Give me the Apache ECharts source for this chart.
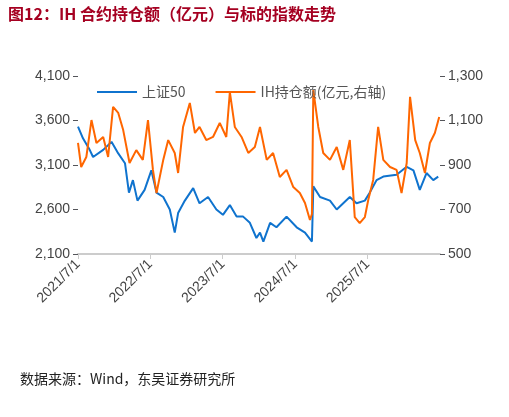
<!DOCTYPE html><html><head><meta charset="utf-8"><script src="https://cdn.jsdelivr.net/npm/echarts@6/dist/echarts.min.js"></script>
<style>body{margin:0}#c{width:509px;height:417px}</style></head><body><div id="c"></div><script>
const sz50=[['2021-07-01',3530],['2021-07-26',3400],['2021-08-29',3270],['2021-09-15',3190],['2021-11-05',3270],['2021-12-17',3360],['2022-01-20',3230],['2022-02-23',3120],['2022-03-15',2790],['2022-04-04',2930],['2022-04-27',2700],['2022-06-02',2820],['2022-07-06',3040],['2022-08-01',2790],['2022-09-04',2740],['2022-10-07',2600],['2022-11-01',2340],['2022-11-18',2560],['2022-12-22',2700],['2023-02-02',2840],['2023-03-06',2670],['2023-04-18',2740],['2023-05-30',2600],['2023-07-02',2540],['2023-08-06',2650],['2023-09-09',2520],['2023-10-12',2520],['2023-11-15',2450],['2023-12-18',2280],['2024-01-05',2340],['2024-01-22',2240],['2024-02-25',2450],['2024-03-28',2400],['2024-05-18',2520],['2024-07-08',2400],['2024-08-19',2340],['2024-09-23',2240],['2024-09-30',2860],['2024-11-03',2740],['2024-12-23',2700],['2025-01-26',2600],['2025-02-28',2670],['2025-04-02',2740],['2025-05-06',2670],['2025-06-17',2700],['2025-07-12',2790],['2025-08-15',2930],['2025-09-18',2970],['2025-11-24',2990],['2026-01-14',3080],['2026-02-17',3040],['2026-03-21',2820],['2026-04-24',3010],['2026-05-28',2930],['2026-06-22',2970]];
const ihOI=[['2021-07-01',999],['2021-07-17',891],['2021-08-12',936],['2021-09-07',1102],['2021-10-02',999],['2021-11-05',1026],['2021-11-30',936],['2021-12-25',1161],['2022-01-20',1134],['2022-02-14',1057],['2022-03-18',909],['2022-04-21',967],['2022-05-24',923],['2022-06-19',1102],['2022-07-14',878],['2022-08-01',774],['2022-09-04',923],['2022-09-29',1012],['2022-11-01',954],['2022-11-18',864],['2022-12-13',1071],['2023-01-16',1179],['2023-02-11',1044],['2023-03-06',1071],['2023-04-09',1012],['2023-05-13',1026],['2023-06-16',1089],['2023-07-19',1026],['2023-08-06',1228],['2023-08-31',1071],['2023-10-04',1026],['2023-11-07',954],['2023-12-10',981],['2024-01-05',1071],['2024-02-08',923],['2024-03-11',954],['2024-04-14',846],['2024-05-18',878],['2024-06-21',801],['2024-07-24',774],['2024-08-19',729],['2024-09-13',653],['2024-09-23',680],['2024-09-30',1237],['2024-10-25',1071],['2024-11-19',954],['2024-12-23',923],['2025-01-26',981],['2025-02-28',878],['2025-04-02',1012],['2025-04-27',666],['2025-05-22',639],['2025-06-17',666],['2025-07-04',743],['2025-07-29',833],['2025-08-23',1071],['2025-09-18',923],['2025-10-22',891],['2025-11-24',878],['2025-12-19',774],['2026-01-14',909],['2026-01-31',1206],['2026-02-26',1012],['2026-03-21',954],['2026-04-16',864],['2026-05-11',999],['2026-06-05',1044],['2026-06-27',1116]];
const xTicks=['2021-07-01','2022-07-01','2023-07-01','2024-07-01','2025-07-01'];
const names=['上证50','IH持仓额(亿元,右轴)'];
const ts=s=>{const p=s.split('-').map(Number);return Date.UTC(p[0],p[1]-1,p[2]);};
const conv=a=>a.map(d=>[ts(d[0]),d[1]]);
const tickTs=xTicks.map(ts);
const ax={fontSize:14,color:'#444',fontFamily:'Liberation Sans, DejaVu Sans'};
const c=echarts.init(document.getElementById('c'));
c.setOption({animation:false,
graphic:[{type:'text',left:8,top:6,style:{text:'图12：IH 合约持仓额（亿元）与标的指数走势',fill:'#A50021',font:'bold 16px "Noto Sans CJK SC"'}},
{type:'text',left:20,top:372,style:{text:'数据来源：Wind，东吴证券研究所',fill:'#222',font:'14px "Noto Sans CJK SC"'}}],
legend:{top:80,left:92,itemGap:30,itemWidth:40,itemHeight:2,icon:'rect',textStyle:{fontSize:14,color:'#555',fontFamily:'Noto Sans CJK SC'},data:names},
grid:{left:78,right:69,top:76,bottom:163},
xAxis:{type:'value',min:ts('2021-07-01'),max:ts('2026-07-01'),
axisLine:{lineStyle:{color:'#ccc',width:2}},axisTick:{show:true,customValues:tickTs,lineStyle:{color:'#ccc'}},splitLine:{show:false},
axisLabel:Object.assign({},ax,{rotate:45,customValues:tickTs,formatter:v=>{const d=new Date(v);return d.getUTCFullYear()+'/'+(d.getUTCMonth()+1)+'/'+d.getUTCDate();}})},
yAxis:[{type:'value',min:2100,max:4100,interval:500,splitLine:{show:false},axisLine:{show:false},axisLabel:ax},
{type:'value',min:500,max:1300,interval:200,splitLine:{show:false},axisLine:{show:false},axisLabel:ax}],
series:[{name:names[0],type:'line',data:conv(sz50),yAxisIndex:0,showSymbol:false,lineStyle:{width:2,color:'#0F73CE'},itemStyle:{color:'#0F73CE'},z:2},
{name:names[1],type:'line',data:conv(ihOI),yAxisIndex:1,showSymbol:false,lineStyle:{width:2,color:'#FF6600'},itemStyle:{color:'#FF6600'},z:3}]});
</script></body></html>
